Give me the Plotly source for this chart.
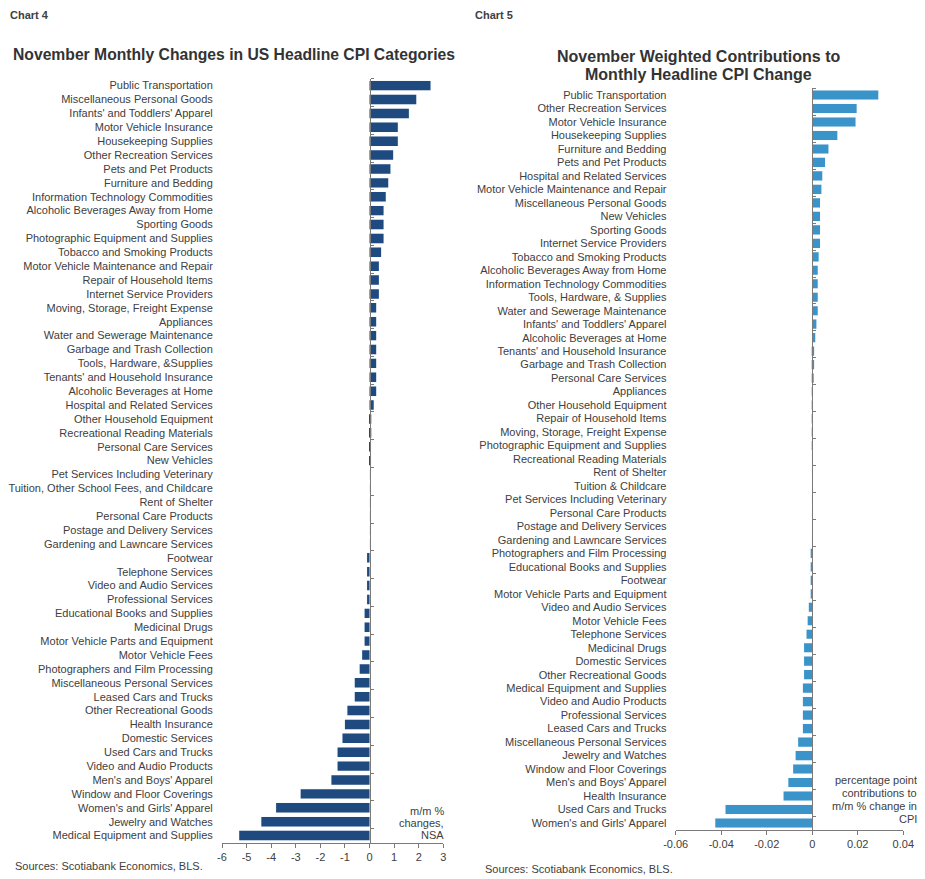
import plotly.graph_objects as go

# ---------------- Data ----------------
left_categories = [
    "Public Transportation", "Miscellaneous Personal Goods", "Infants' and Toddlers' Apparel",
    "Motor Vehicle Insurance", "Housekeeping Supplies", "Other Recreation Services",
    "Pets and Pet Products", "Furniture and Bedding", "Information Technology Commodities",
    "Alcoholic Beverages Away from Home", "Sporting Goods", "Photographic Equipment and Supplies",
    "Tobacco and Smoking Products", "Motor Vehicle Maintenance and Repair", "Repair of Household Items",
    "Internet Service Providers", "Moving, Storage, Freight Expense", "Appliances",
    "Water and Sewerage Maintenance", "Garbage and Trash Collection", "Tools, Hardware, &Supplies",
    "Tenants' and Household Insurance", "Alcoholic Beverages at Home", "Hospital and Related Services",
    "Other Household Equipment", "Recreational Reading Materials", "Personal Care Services",
    "New Vehicles", "Pet Services Including Veterinary", "Tuition, Other School Fees, and Childcare",
    "Rent of Shelter", "Personal Care Products", "Postage and Delivery Services",
    "Gardening and Lawncare Services", "Footwear", "Telephone Services",
    "Video and Audio Services", "Professional Services", "Educational Books and Supplies",
    "Medicinal Drugs", "Motor Vehicle Parts and Equipment", "Motor Vehicle Fees",
    "Photographers and Film Processing", "Miscellaneous Personal Services", "Leased Cars and Trucks",
    "Other Recreational Goods", "Health Insurance", "Domestic Services",
    "Used Cars and Trucks", "Video and Audio Products", "Men's and Boys' Apparel",
    "Window and Floor Coverings", "Women's and Girls' Apparel", "Jewelry and Watches",
    "Medical Equipment and Supplies",
]
left_values = [
    2.48, 1.9, 1.6,
    1.15, 1.15, 0.96,
    0.85, 0.76, 0.66,
    0.57, 0.57, 0.57,
    0.47, 0.38, 0.38,
    0.38, 0.27, 0.27,
    0.27, 0.27, 0.27,
    0.27, 0.27, 0.17,
    0.07, 0.07, 0.05,
    0.05, 0.0, 0.0,
    0.0, 0.0, 0.0,
    0.0, -0.1, -0.1,
    -0.1, -0.1, -0.2,
    -0.2, -0.2, -0.3,
    -0.4, -0.6, -0.6,
    -0.9, -1.0, -1.1,
    -1.3, -1.3, -1.55,
    -2.8, -3.8, -4.4,
    -5.3,
]

right_categories = [
    "Public Transportation", "Other Recreation Services", "Motor Vehicle Insurance",
    "Housekeeping Supplies", "Furniture and Bedding", "Pets and Pet Products",
    "Hospital and Related Services", "Motor Vehicle Maintenance and Repair", "Miscellaneous Personal Goods",
    "New Vehicles", "Sporting Goods", "Internet Service Providers",
    "Tobacco and Smoking Products", "Alcoholic Beverages Away from Home", "Information Technology Commodities",
    "Tools, Hardware, & Supplies", "Water and Sewerage Maintenance", "Infants' and Toddlers' Apparel",
    "Alcoholic Beverages at Home", "Tenants' and Household Insurance", "Garbage and Trash Collection",
    "Personal Care Services", "Appliances", "Other Household Equipment",
    "Repair of Household Items", "Moving, Storage, Freight Expense", "Photographic Equipment and Supplies",
    "Recreational Reading Materials", "Rent of Shelter", "Tuition & Childcare",
    "Pet Services Including Veterinary", "Personal Care Products", "Postage and Delivery Services",
    "Gardening and Lawncare Services", "Photographers and Film Processing", "Educational Books and Supplies",
    "Footwear", "Motor Vehicle Parts and Equipment", "Video and Audio Services",
    "Motor Vehicle Fees", "Telephone Services", "Medicinal Drugs",
    "Domestic Services", "Other Recreational Goods", "Medical Equipment and Supplies",
    "Video and Audio Products", "Professional Services", "Leased Cars and Trucks",
    "Miscellaneous Personal Services", "Jewelry and Watches", "Window and Floor Coverings",
    "Men's and Boys' Apparel", "Health Insurance", "Used Cars and Trucks",
    "Women's and Girls' Apparel",
]
right_values = [
    0.029, 0.0195, 0.019,
    0.011, 0.0071, 0.0056,
    0.0044, 0.004, 0.0034,
    0.0034, 0.0034, 0.0034,
    0.0028, 0.0024, 0.0024,
    0.0024, 0.0024, 0.0018,
    0.0013, 0.0008, 0.0008,
    0.0002, 0.0001, 0.0001,
    0.0001, 0.0001, 0.0001,
    0.0, 0.0, 0.0,
    0.0, 0.0, 0.0,
    0.0, -0.0006, -0.0006,
    -0.0006, -0.0006, -0.0015,
    -0.002, -0.0025, -0.0036,
    -0.0036, -0.0036, -0.0041,
    -0.0041, -0.0041, -0.0041,
    -0.0062, -0.0073, -0.0084,
    -0.0105, -0.0126, -0.0381,
    -0.0426,
]

left_xticks = [-6, -5, -4, -3, -2, -1, 0, 1, 2, 3]
left_xtick_labels = ["-6", "-5", "-4", "-3", "-2", "-1", "0", "1", "2", "3"]
right_xticks = [-0.06, -0.04, -0.02, 0, 0.02, 0.04]
right_xtick_labels = ["-0.06", "-0.04", "-0.02", "0", "0.02", "0.04"]

# ---------------- Layout helpers ----------------
W, H = 925, 879
OFF = 8  # page body margin offset
FONT = "Liberation Sans, Arial, sans-serif"
TXT = "#404040"
AXC = "#7a7a7a"
LEFT_BAR = "#1f4a80"
RIGHT_BAR = "#3a94c9"


def fx(p):
    return (p - OFF) / W


def fy(p):
    return 1 - (p - OFF) / H


L_RANGE = [-6, 3]
R_RANGE = [-0.06, 0.04]
L_XDOM = [fx(222), fx(443.3)]
L_YDOM = [fy(842.5), fy(78.7)]
R_XDOM = [fx(675.7), fx(903.3)]
R_YDOM = [fy(829.7), fy(88.3)]


def zero_pos(dom, rng):
    return dom[0] + (0 - rng[0]) / (rng[1] - rng[0]) * (dom[1] - dom[0])


nL = len(left_categories)
nR = len(right_categories)

fig = go.Figure()

# Left chart: invisible trace for labels, visible trace on zero-line axis
fig.add_trace(go.Bar(x=left_values, y=left_categories, orientation="h", xaxis="x", yaxis="y",
                     marker=dict(color="rgba(0,0,0,0)"), hoverinfo="skip", showlegend=False))
fig.add_trace(go.Bar(x=left_values, y=left_categories, orientation="h", xaxis="x", yaxis="y3",
                     marker=dict(color=LEFT_BAR, line=dict(width=0)), showlegend=False))
# Right chart
fig.add_trace(go.Bar(x=right_values, y=right_categories, orientation="h", xaxis="x2", yaxis="y2",
                     marker=dict(color="rgba(0,0,0,0)"), hoverinfo="skip", showlegend=False))
fig.add_trace(go.Bar(x=right_values, y=right_categories, orientation="h", xaxis="x2", yaxis="y4",
                     marker=dict(color=RIGHT_BAR, line=dict(width=0)), showlegend=False))

label_font = dict(family=FONT, size=11, color=TXT)

fig.update_layout(
    width=W, height=H,
    margin=dict(l=0, r=0, t=0, b=0, pad=0, autoexpand=False),
    paper_bgcolor="white", plot_bgcolor="white",
    bargap=0.32,
    font=dict(family=FONT, size=11, color=TXT),
    xaxis=dict(domain=L_XDOM, range=L_RANGE, tickvals=left_xticks, ticktext=left_xtick_labels,
               showgrid=False, zeroline=False,
               showline=True, linecolor=AXC, linewidth=1, ticks="outside", ticklen=4, tickcolor=AXC,
               anchor="y", tickfont=label_font, automargin=False),
    yaxis=dict(domain=L_YDOM, type="category", range=[nL - 0.5, -0.5], showgrid=False, zeroline=False,
               showline=False, ticks="outside", ticklen=6, tickcolor="rgba(0,0,0,0)",
               tickfont=label_font, anchor="x", categoryorder="array", categoryarray=left_categories,
               automargin=False),
    yaxis3=dict(overlaying="y", type="category", range=[nL - 0.5, -0.5], anchor="free",
                position=zero_pos(L_XDOM, L_RANGE), side="right", showline=True, linecolor=AXC,
                linewidth=1, ticks="outside", ticklen=3, tickcolor=AXC, tickson="boundaries",
                showticklabels=False, showgrid=False, zeroline=False, automargin=False,
                categoryorder="array", categoryarray=left_categories),
    xaxis2=dict(domain=R_XDOM, range=R_RANGE, tickvals=right_xticks, ticktext=right_xtick_labels,
                showgrid=False, zeroline=False, showline=True, linecolor=AXC, linewidth=1,
                ticks="outside", ticklen=4, tickcolor=AXC, anchor="y2", tickfont=label_font,
                automargin=False),
    yaxis2=dict(domain=R_YDOM, type="category", range=[nR - 0.5, -0.5], showgrid=False, zeroline=False,
                showline=False, ticks="outside", ticklen=6, tickcolor="rgba(0,0,0,0)",
                tickfont=label_font, anchor="x2", categoryorder="array", categoryarray=right_categories,
                automargin=False),
    yaxis4=dict(overlaying="y2", type="category", range=[nR - 0.5, -0.5], anchor="free",
                position=zero_pos(R_XDOM, R_RANGE), side="right", showline=True, linecolor=AXC,
                linewidth=1, ticks="outside", ticklen=3, tickcolor=AXC, tickson="boundaries",
                showticklabels=False, showgrid=False, zeroline=False, automargin=False,
                categoryorder="array", categoryarray=right_categories),
)

ann = []


def add_text(text, x, y, size=11, bold=False, xanchor="left", color=TXT):
    ann.append(dict(text=("<b>%s</b>" % text) if bold else text, x=fx(x), y=fy(y), xref="paper",
                    yref="paper", xanchor=xanchor, yanchor="middle", showarrow=False,
                    font=dict(family=FONT, size=size, color=color)))


add_text("Chart 4", 8, 15, size=11, bold=True)
add_text("Chart 5", 473, 15, size=11, bold=True)
add_text("November Monthly Changes in US Headline CPI Categories", 233.5, 55, size=15.7, bold=True,
         xanchor="center", color="#333333")
add_text("November Weighted Contributions to", 698, 56.5, size=16, bold=True, xanchor="center",
         color="#333333")
add_text("Monthly Headline CPI Change", 698, 74, size=16, bold=True, xanchor="center", color="#333333")
add_text("Sources: Scotiabank Economics, BLS.", 13, 865.5)
add_text("Sources: Scotiabank Economics, BLS.", 483, 869)

for txt, yy in zip(["m/m %", "changes,", "NSA"], [810.5, 822.5, 834.5]):
    add_text(txt, 446, yy, xanchor="right")
for txt, yy in zip(["percentage point", "contributions to", "m/m % change in", "CPI"],
                   [780, 792.5, 805.5, 818.5]):
    add_text(txt, 919, yy, xanchor="right")

fig.update_layout(annotations=ann)

fig.write_html("out.html")
